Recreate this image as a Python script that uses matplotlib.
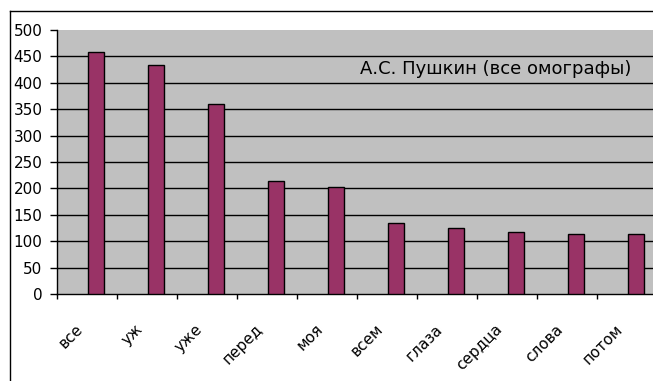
import matplotlib
matplotlib.use("Agg")
import matplotlib.pyplot as plt
from matplotlib.lines import Line2D
import numpy as np

words = ["все", "уж", "уже", "перед", "моя", "всем", "глаза", "сердца", "слова", "потом"]
counts = [458, 434, 360, 214, 203, 134, 125, 117, 114, 114]
series_name = "А.С. Пушкин (все омографы)"
y_ticks = [0, 50, 100, 150, 200, 250, 300, 350, 400, 450, 500]

W, H = 653, 381
fig = plt.figure(figsize=(W / 100, H / 100), dpi=100)
fig.patch.set_facecolor("white")

# plot area (extends past the right edge of the canvas)
left, right, top, bottom = 57, 657, 30, 294
ax = fig.add_axes([left / W, 1 - bottom / H, (right - left) / W, (bottom - top) / H])
ax.set_facecolor("#C0C0C0")

x = np.arange(len(words))
ax.bar(x + 0.15, counts, width=0.28, color="#993366", edgecolor="black",
       linewidth=1.0, zorder=3)

ax.set_xlim(-0.5, len(words) - 0.5)
ax.set_ylim(0, 500)

for v in y_ticks[1:-1]:
    ax.axhline(v, color="black", linewidth=1.0, zorder=1)

ax.set_yticks(y_ticks)
ax.set_yticklabels([str(v) for v in y_ticks], fontsize=11, family="DejaVu Sans")
ax.tick_params(axis="y", length=5, width=1, pad=5.5, colors="black", direction="out")

# labels slightly left of category centres, tick marks at category boundaries
ax.set_xticks(x - 0.2)
ax.set_xticklabels(words, rotation=45, ha="right", va="top",
                   rotation_mode="anchor", fontsize=11, family="DejaVu Sans")
ax.tick_params(axis="x", which="major", length=0, pad=20)
ax.set_xticks(np.arange(-0.5, len(words)), minor=True)
ax.tick_params(axis="x", which="minor", length=3.6, width=1, direction="out")

for side in ("top", "right"):
    ax.spines[side].set_visible(False)
for side in ("left", "bottom"):
    ax.spines[side].set_color("black")
    ax.spines[side].set_linewidth(1.0)

ax.text(360 / W, 1 - 69 / H, series_name, transform=fig.transFigure,
        fontsize=13, ha="left", va="center", color="black", family="DejaVu Sans")

# outer chart frame
fig.add_artist(Line2D([10 / W, 10 / W], [0, 1 - 11 / H], color="black",
                      linewidth=1.0, transform=fig.transFigure))
fig.add_artist(Line2D([10 / W, 1], [1 - 11 / H, 1 - 11 / H], color="black",
                      linewidth=1.0, transform=fig.transFigure))

fig.savefig("out.png", dpi=100)
